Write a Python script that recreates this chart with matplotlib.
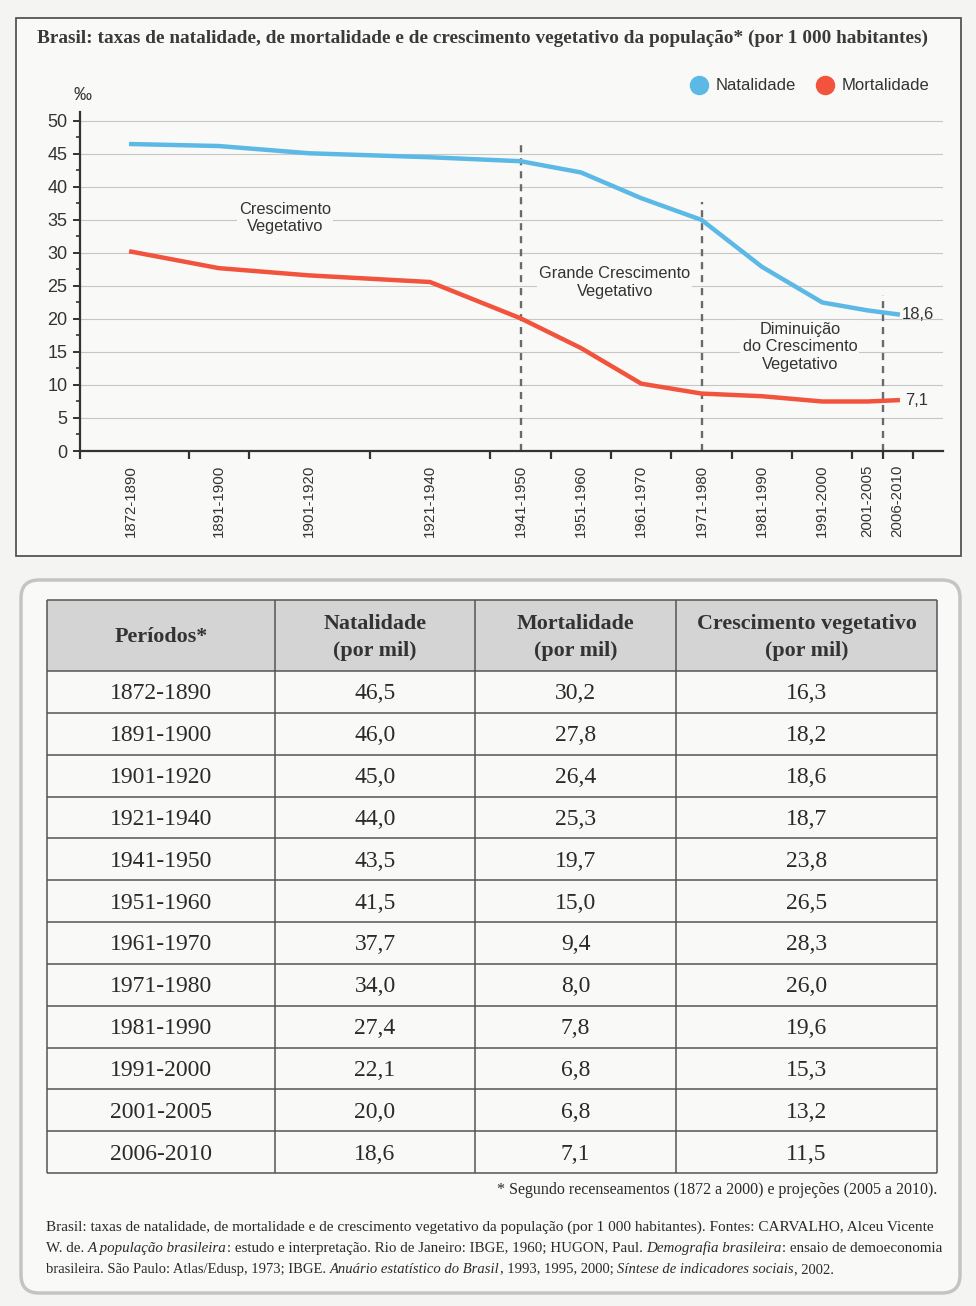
import numpy as np
import matplotlib
matplotlib.use('Agg')
import matplotlib.pyplot as plt
from matplotlib.patches import Rectangle, FancyBboxPatch
from matplotlib.lines import Line2D

plt.rcParams['font.family'] = ['Liberation Sans', 'DejaVu Sans']

# dados da tabela
periodos = ['1872-1890', '1891-1900', '1901-1920', '1921-1940', '1941-1950', '1951-1960',
            '1961-1970', '1971-1980', '1981-1990', '1991-2000', '2001-2005', '2006-2010']
natalidade = [46.5, 46.0, 45.0, 44.0, 43.5, 41.5, 37.7, 34.0, 27.4, 22.1, 20.0, 18.6]
mortalidade = [30.2, 27.8, 26.4, 25.3, 19.7, 15.0, 9.4, 8.0, 7.8, 6.8, 6.8, 7.1]
crescimento = [16.3, 18.2, 18.6, 18.7, 23.8, 26.5, 28.3, 26.0, 19.6, 15.3, 13.2, 11.5]

# curvas como aparecem no grafico (diferem um pouco da tabela)
nat_curva = [46.5, 46.2, 45.1, 44.5, 43.9, 42.2, 38.3, 35.0, 27.9, 22.5, 21.3, 20.7]
mor_curva = [30.2, 27.7, 26.6, 25.6, 20.1, 15.6, 10.2, 8.7, 8.3, 7.5, 7.5, 7.7]

# limites das fases do crescimento vegetativo
fases = [1945, 1975, 2005]
fases_txt = ['Crescimento\nVegetativo', 'Grande Crescimento\nVegetativo',
             'Diminuição\ndo Crescimento\nVegetativo']

titulo = ('Brasil: taxas de natalidade, de mortalidade e de crescimento vegetativo '
          'da população* (por 1 000 habitantes)')
cabecalho = ['Períodos*', 'Natalidade\n(por mil)', 'Mortalidade\n(por mil)',
             'Crescimento vegetativo\n(por mil)']
nota = '* Segundo recenseamentos (1872 a 2000) e projeções (2005 a 2010).'
legenda = [
    [("Brasil: taxas de natalidade, de mortalidade e de crescimento vegetativo da população "
      "(por 1 000 habitantes). Fontes: CARVALHO, Alceu Vicente", 'normal')],
    [("W. de.", 'normal'), (" A população brasileira", 'italic'),
     (": estudo e interpretação. Rio de Janeiro: IBGE, 1960; HUGON, Paul.", 'normal'),
     (" Demografia brasileira", 'italic'), (": ensaio de demoeconomia", 'normal')],
    [("brasileira. São Paulo: Atlas/Edusp, 1973; IBGE.", 'normal'),
     (" Anuário estatístico do Brasil", 'italic'), (", 1993, 1995, 2000;", 'normal'),
     (" Síntese de indicadores sociais", 'italic'), (", 2002.", 'normal')],
]

AZUL = '#5cb9e6'
VERMELHO = '#f1533d'
TEXTO = '#333333'
SERIF = 'Liberation Serif'


def fmt(v):
    return f'{v:.1f}'.replace('.', ',')


inicio = [int(p[:4]) for p in periodos]
fim = [int(p[5:]) for p in periodos]
meios = [(a - 1 + b) / 2 for a, b in zip(inicio, fim)]
limites = [inicio[0]] + fim

W, H = 976, 1306
fig = plt.figure(figsize=(W / 100, H / 100), dpi=100, facecolor='#f4f4f2')
r = fig.canvas.get_renderer()

bg = fig.add_axes([0, 0, 1, 1], zorder=0)
bg.set_xlim(0, W)
bg.set_ylim(H, 0)
bg.axis('off')


def ajusta(t, largura):
    w = t.get_window_extent(r).width
    t.set_fontsize(t.get_fontsize() * largura / w)


# ---- painel do grafico
bg.add_patch(Rectangle((16, 18), 945, 538, fc='#f9f9f8', ec='#555555', lw=1.3))
t = bg.text(37, 38, titulo, fontsize=14, fontweight='bold', family=SERIF, color='#3a3a3a', va='center')
ajusta(t, 893)
bg.text(83, 96, '‰', ha='center', va='center', fontsize=13, color=TEXTO)

ax = fig.add_axes([80 / W, 1 - 451 / H, 863 / W, (451 - 111.7) / H], zorder=2)
ax.set_facecolor('none')
ax.set_xlim(1872, 2015)
ax.set_ylim(0, 51.4)
for s in ['top', 'right']:
    ax.spines[s].set_visible(False)
for s in ['left', 'bottom']:
    ax.spines[s].set_linewidth(1.6)
    ax.spines[s].set_color(TEXTO)

ax.set_yticks(range(0, 51, 5))
ax.set_yticks(np.arange(0, 51, 2.5), minor=True)
ax.tick_params(axis='y', which='major', length=5, width=1.4, pad=4, labelsize=13,
               colors=TEXTO)
ax.tick_params(axis='y', which='minor', length=3, width=1.2, colors=TEXTO)
ax.yaxis.grid(True, color='#c6c6c6', lw=0.8)
ax.set_axisbelow(True)

ax.set_xticks(limites)
ax.set_xticklabels([])
ax.tick_params(axis='x', which='major', length=6, width=1.6, colors=TEXTO)
ax.set_xticks(meios, minor=True)
ax.set_xticklabels(periodos, minor=True, rotation=90, fontsize=10.8, color=TEXTO)
ax.tick_params(axis='x', which='minor', length=0, pad=10)

topo = np.interp(fases, meios, nat_curva) + 2.7
ax.vlines(fases, 0, topo, colors='#6a6a6a', linestyles=(0, (3, 2.5)), lw=1.7, zorder=2)

ax.plot(meios, nat_curva, color=AZUL, lw=3.2, solid_joinstyle='round', zorder=3)
ax.plot(meios, mor_curva, color=VERMELHO, lw=3.2, solid_joinstyle='round', zorder=3)

ax.annotate(fmt(natalidade[-1]), (meios[-1], nat_curva[-1]), xytext=(3, 0),
            textcoords='offset points', va='center', fontsize=12, color=TEXTO,
            annotation_clip=False)
ax.annotate(fmt(mortalidade[-1]), (meios[-1], mor_curva[-1]), xytext=(5, 0),
            textcoords='offset points', va='center', fontsize=12, color=TEXTO,
            annotation_clip=False)

pos_txt = [(1906, 35.3), (1960.6, 25.5), (1991.3, 15.8)]
for (x, y), s in zip(pos_txt, fases_txt):
    ax.text(x, y, s, ha='center', va='center', fontsize=11.8, color=TEXTO, zorder=4,
            linespacing=1.2, bbox=dict(fc='#f9f9f8', ec='none', pad=1.5))

hs = [Line2D([], [], marker='o', ls='none', ms=13, color=AZUL),
      Line2D([], [], marker='o', ls='none', ms=13, color=VERMELHO)]
ax.legend(hs, ['Natalidade', 'Mortalidade'], loc='center right',
          bbox_to_anchor=(944 / W, 1 - 86 / H), bbox_transform=fig.transFigure,
          ncol=2, frameon=False, fontsize=12, handletextpad=0.35, columnspacing=1.2,
          handlelength=1.2, labelcolor=TEXTO)

# ---- tabela
bg.add_patch(FancyBboxPatch((21, 580), 939, 713, boxstyle='round,pad=0,rounding_size=18',
                            fc='#f9f9f8', ec='#c4c4c4', lw=2.5))
col = [47, 275, 475, 676, 937]
topo_tab, alt_cab, alt_lin = 600, 71, (1173 - 671) / 12
bg.add_patch(Rectangle((col[0], topo_tab), col[-1] - col[0], alt_cab, fc='#d4d4d4', ec='none'))
ys = [topo_tab] + [topo_tab + alt_cab + i * alt_lin for i in range(len(periodos) + 1)]
bg.hlines(ys, col[0], col[-1], color='#555555', lw=1.1)
bg.vlines(col, topo_tab, ys[-1], color='#555555', lw=1.1)

centros = [(a + b) / 2 for a, b in zip(col[:-1], col[1:])]
for cx, s in zip(centros, cabecalho):
    bg.text(cx, topo_tab + alt_cab / 2 + 2, s, ha='center', va='center', fontsize=15.8,
            fontweight='bold', family=SERIF, color='#333333', linespacing=1.5)
for i, p in enumerate(periodos):
    y = topo_tab + alt_cab + (i + 0.5) * alt_lin + 2
    vals = [p, fmt(natalidade[i]), fmt(mortalidade[i]), fmt(crescimento[i])]
    for cx, s in zip(centros, vals):
        bg.text(cx, y, s, ha='center', va='center', fontsize=17, family=SERIF, color='#2a2a2a')

t = bg.text(937, 1190, nota, ha='right', va='center', fontsize=12, family=SERIF, color='#2a2a2a')
ajusta(t, 439)

# ---- legenda com trechos em italico, cada linha ajustada a largura do original
larguras = [885, 892, 785]
esp = (bg.text(0, 0, 'n n', fontsize=10, family=SERIF).get_window_extent(r).width
       - bg.text(0, 0, 'nn', fontsize=10, family=SERIF).get_window_extent(r).width)
for tt in bg.texts[-2:]:
    tt.remove()
for k, linha in enumerate(legenda):
    # largura a 10 pt
    tot = 0
    for s, estilo in linha:
        if s.startswith(' '):
            tot += esp
            s = s[1:]
        t = bg.text(0, 0, s, fontsize=10, family=SERIF, style=estilo)
        tot += t.get_window_extent(r).width
        t.remove()
    tam = 10 * larguras[k] / tot
    x = 46
    for s, estilo in linha:
        if s.startswith(' '):
            x += esp * tam / 10
            s = s[1:]
        t = bg.text(x, 1231 + k * 21, s, fontsize=tam, family=SERIF, style=estilo,
                    va='baseline', color='#2a2a2a')
        x += t.get_window_extent(r).width

fig.savefig('out.png', dpi=100, facecolor=fig.get_facecolor())
